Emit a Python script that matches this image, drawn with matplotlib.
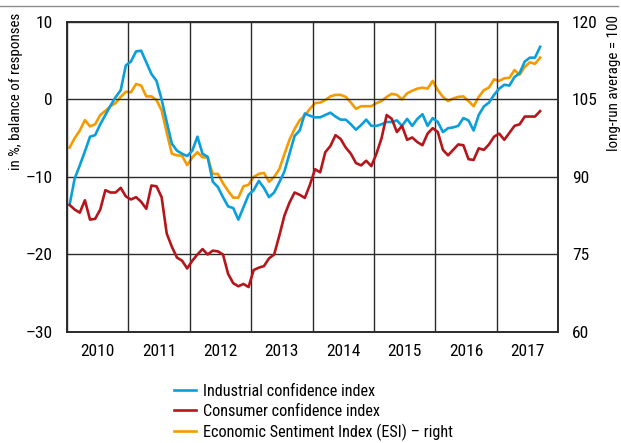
import numpy as np
import matplotlib
matplotlib.use('Agg')
import matplotlib.pyplot as plt

# 窄体字，接近原图
plt.rcParams['font.family'] = ['Roboto Condensed', 'Liberation Sans', 'DejaVu Sans']

# ---------------------- data (monthly, Jan 2010 - Sep 2017) ----------------------
industrial = [-13.6, -10.2, -8.5, -6.7, -4.8, -4.6, -3.2, -2.0, -0.8, 0.3, 1.2, 4.4,
              4.9, 6.2, 6.3, 4.8, 3.3, 2.4, 0.0, -2.9, -5.7, -6.6, -7.0, -7.3,
              -6.6, -4.8, -7.0, -7.4, -10.6, -11.3, -12.6, -13.8, -14.0, -15.5, -13.9, -12.3,
              -11.7, -10.5, -11.4, -12.6, -12.0, -10.7, -9.3, -7.0, -4.7, -4.0, -1.8, -2.1,
              -2.3, -2.3, -2.0, -1.7, -2.2, -2.6, -2.6, -3.2, -3.9, -3.3, -2.6, -3.4,
              -3.4, -3.2, -2.9, -2.9, -2.7, -3.4, -2.5, -3.4, -2.5, -1.9, -3.4, -2.4,
              -2.9, -4.2, -3.7, -3.6, -3.4, -2.4, -2.7, -4.0, -2.0, -0.9, -0.4, 0.6,
              1.4, 1.9, 1.8, 2.9, 3.4, 4.9, 5.4, 5.4, 6.8]

consumer = [-13.6, -14.2, -14.6, -13.0, -15.5, -15.4, -14.2, -11.7, -12.0, -12.0, -11.4, -12.5,
            -12.9, -12.6, -13.2, -14.1, -11.1, -11.2, -12.6, -17.3, -19.0, -20.4, -20.8, -21.8,
            -20.8, -20.0, -19.3, -20.0, -19.5, -19.6, -20.0, -22.5, -23.7, -24.1, -23.8, -24.2,
            -22.0, -21.7, -21.5, -20.5, -20.0, -17.6, -15.0, -13.3, -12.0, -12.3, -12.7, -11.0,
            -9.0, -9.4, -6.8, -6.0, -4.6, -5.1, -6.2, -7.0, -8.2, -8.5, -7.9, -8.6,
            -7.0, -5.0, -2.0, -2.5, -4.2, -3.4, -5.2, -4.9, -5.5, -5.9, -4.4, -3.7,
            -4.2, -6.5, -7.2, -6.5, -5.8, -5.9, -7.7, -7.8, -6.3, -6.5, -5.8, -4.8,
            -4.4, -5.2, -4.3, -3.4, -3.2, -2.2, -2.2, -2.2, -1.5]

esi = [95.7, 97.5, 99.0, 101.0, 99.8, 100.2, 102.0, 102.8, 103.7, 104.3, 105.5, 106.5,
       106.4, 108.0, 107.7, 105.6, 105.6, 104.9, 102.9, 98.6, 94.5, 94.2, 94.1, 92.3,
       93.8, 94.8, 93.8, 93.8, 90.6, 90.6, 88.8, 87.3, 86.0, 86.0, 88.2, 88.5,
       90.0, 90.6, 90.8, 89.1, 90.0, 91.5, 94.4, 97.2, 99.3, 101.0, 101.9, 103.2,
       104.3, 104.4, 104.9, 105.6, 105.9, 105.9, 105.5, 104.4, 103.2, 103.7, 103.7, 103.7,
       104.3, 104.7, 105.5, 106.1, 105.9, 105.0, 106.2, 106.7, 107.1, 107.3, 107.1, 108.6,
       106.8, 105.5, 104.7, 105.2, 105.5, 105.6, 104.7, 103.7, 105.5, 106.8, 107.3, 108.9,
       108.6, 109.1, 109.2, 110.7, 109.8, 111.3, 112.2, 111.9, 113.1]

years = list(range(2010, 2018))
left_ticks = [10, 0, -10, -20, -30]
left_labels = ['10', '0', '–10', '–20', '–30']
right_ticks = [120, 105, 90, 75, 60]

# 月中位置
t = 2010 + (np.arange(len(industrial)) + 0.5) / 12

c_blue = '#0a9fdb'
c_red = '#b5161b'
c_orange = '#f59b00'
c_grid = '#2b2b2b'

fig = plt.figure(figsize=(6.21, 4.43), dpi=100)
ax = fig.add_axes([67 / 621, 1 - 332 / 443, (558 - 67) / 621, (332 - 22) / 443])
ax2 = ax.twinx()

l1, = ax.plot(t, industrial, color=c_blue, lw=1.9, label='Industrial confidence index')
l2, = ax.plot(t, consumer, color=c_red, lw=1.9, label='Consumer confidence index')
l3, = ax2.plot(t, esi, color=c_orange, lw=1.9, label='Economic Sentiment Index (ESI) – right')
ax.set_zorder(ax2.get_zorder() + 1)
ax.patch.set_visible(False)

ax.set_xlim(2010, 2018)
ax.set_ylim(-30, 10)
ax2.set_ylim(60, 120)

# grid lines at year boundaries, labels in the middle of each year
ax.set_xticks(years + [2018])
ax.set_xticklabels([])
ax.set_xticks([y + 0.5 for y in years], minor=True)
ax.set_xticklabels([str(y) for y in years], minor=True)
ax.tick_params(axis='x', which='both', length=0, labelsize=12.5, pad=9)
ax.grid(True, axis='x', which='major', color=c_grid, lw=1)
ax.set_yticks(left_ticks)
ax.set_yticklabels(left_labels)
ax.grid(True, axis='y', color=c_grid, lw=1)
ax.tick_params(axis='y', length=0, labelsize=12.5, pad=10)
ax2.set_yticks(right_ticks)
ax2.tick_params(axis='y', length=0, labelsize=12.5, pad=10)

for a in (ax, ax2):
    for s in a.spines.values():
        s.set_color(c_grid)
        s.set_linewidth(1.2)

# axis titles are aligned to the top
ax.set_ylabel('in %, balance of responses', fontsize=10.8, loc='top')
ax.yaxis.set_label_coords(-44 / 491, 1 + 9 / 310)
ax2.set_ylabel('long-run average = 100', fontsize=10.8, loc='top')
ax2.yaxis.set_label_coords(1 + 49 / 491, 1 + 7 / 310)

# top rule
fig.add_artist(plt.Line2D([0.0, 0.995], [1 - 6 / 443, 1 - 6 / 443], color='#8c8c8c', lw=1))

fig.legend(handles=[l1, l2, l3], loc='upper left', bbox_to_anchor=(174 / 621, 1 - 384 / 443),
           frameon=False, fontsize=11.7, handlelength=1.35, handletextpad=0.45,
           labelspacing=0.3, borderpad=0, borderaxespad=0)

fig.savefig('out.png', dpi=100)
